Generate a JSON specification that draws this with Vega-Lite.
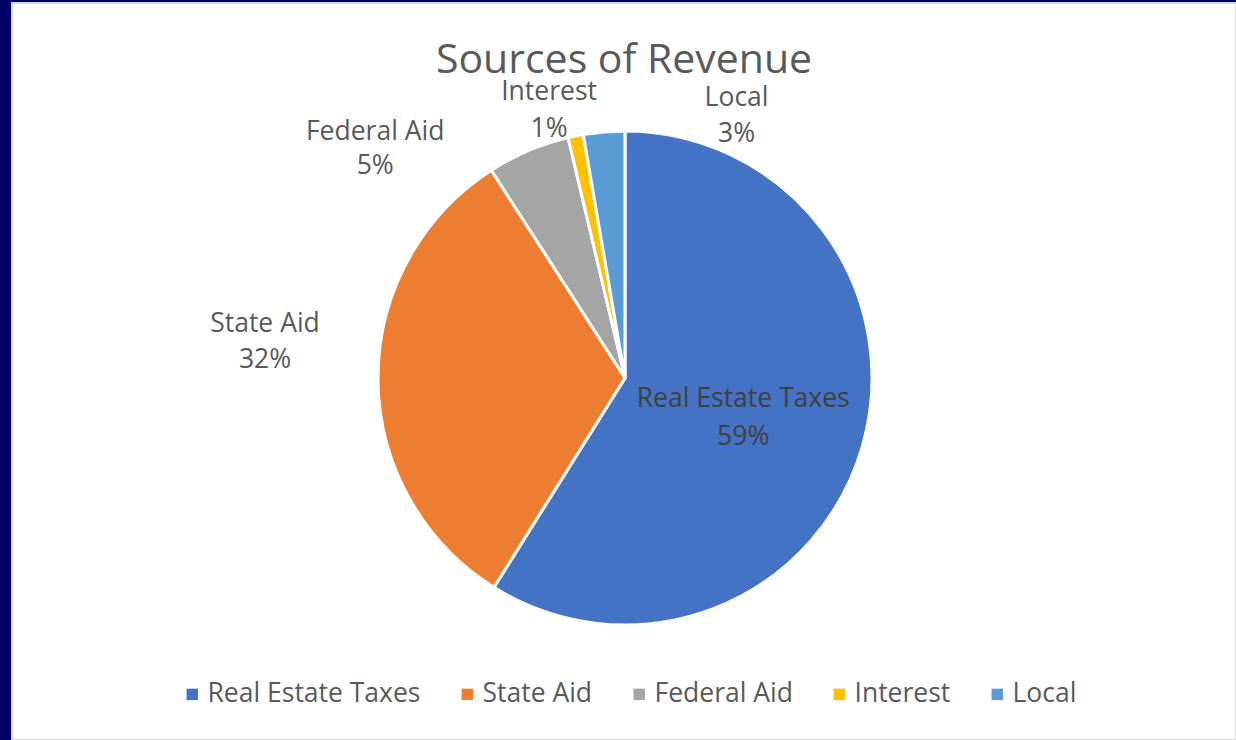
{
  "$schema": "https://vega.github.io/schema/vega-lite/v6.json",
  "autosize": {"type": "none"},
  "width": 1224,
  "height": 737,
  "padding": {"left": 12, "top": 3, "right": 0, "bottom": 0},
  "background": "#000066",
  "view": {"fill": "white", "stroke": "#d9d9d9", "strokeWidth": 2},
  "config": {"font": "Open Sans"},
  "title": {
    "text": "Sources of Revenue",
    "fontSize": 41,
    "fontWeight": "normal",
    "color": "#595959",
    "anchor": "middle",
    "baseline": "alphabetic",
    "offset": -111,
    "font": "Open Sans"
  },
  "data": {
    "values": [
      {"cat": "Real Estate Taxes", "value": 58.9, "label": "Real Estate Taxes\n59%", "rank": 1},
      {"cat": "State Aid", "value": 32.0, "label": "State Aid\n32%", "rank": 2},
      {"cat": "Federal Aid", "value": 5.4, "label": "Federal Aid\n5%", "rank": 3},
      {"cat": "Interest", "value": 1.0, "label": "Interest\n1%", "rank": 4},
      {"cat": "Local", "value": 2.7, "label": "Local\n3%", "rank": 5}
    ]
  },
  "encoding": {
    "theta": {"field": "value", "type": "quantitative", "stack": true},
    "order": {"field": "rank", "type": "quantitative"}
  },
  "layer": [
    {
      "mark": {"type": "arc", "outerRadius": 247, "stroke": "white", "strokeWidth": 3, "xOffset": 1, "yOffset": 6.5},
      "encoding": {
        "color": {
          "field": "cat",
          "type": "nominal",
          "scale": {
            "domain": ["Real Estate Taxes", "State Aid", "Federal Aid", "Interest", "Local"],
            "range": ["#4472C4", "#ED7D31", "#A5A5A5", "#FFC000", "#5B9BD5"]
          },
          "legend": {
            "title": null,
            "orient": "none",
            "direction": "horizontal",
            "legendX": 167,
            "legendY": 678,
            "symbolType": "square",
            "symbolSize": 130,
            "symbolStrokeWidth": 0,
            "labelFontSize": 26.5,
            "labelColor": "#595959",
            "labelFont": "Open Sans",
            "labelOffset": 2,
            "labelLimit": 400,
            "columnPadding": 33
          }
        }
      }
    },
    {
      "mark": {"type": "text", "radius": 123, "dy": -13, "fontSize": 26.5, "color": "#404040", "lineBreak": "\n", "lineHeight": 38, "baseline": "middle", "align": "center", "xOffset": 1, "yOffset": 6.5},
      "encoding": {
        "detail": {"field": "cat", "type": "nominal"},
        "text": {"condition": {"test": "datum.cat === 'Real Estate Taxes'", "field": "label"}, "value": ""}
      }
    },
    {
      "mark": {"type": "text", "radius": 250, "dx": -110, "dy": -56, "fontSize": 26.5, "color": "#595959", "lineBreak": "\n", "lineHeight": 36, "baseline": "middle", "align": "center", "xOffset": 1, "yOffset": 6.5},
      "encoding": {
        "detail": {"field": "cat", "type": "nominal"},
        "text": {"condition": {"test": "datum.cat === 'State Aid'", "field": "label"}, "value": ""}
      }
    },
    {
      "mark": {"type": "text", "radius": 250, "dx": -152, "dy": -16, "fontSize": 26.5, "color": "#595959", "lineBreak": "\n", "lineHeight": 34, "baseline": "middle", "align": "center", "xOffset": 1, "yOffset": 6.5},
      "encoding": {
        "detail": {"field": "cat", "type": "nominal"},
        "text": {"condition": {"test": "datum.cat === 'Federal Aid'", "field": "label"}, "value": ""}
      }
    },
    {
      "mark": {"type": "text", "radius": 275, "dx": -21, "dy": -17, "fontSize": 26.5, "color": "#595959", "lineBreak": "\n", "lineHeight": 37, "baseline": "middle", "align": "center", "xOffset": 1, "yOffset": 6.5},
      "encoding": {
        "detail": {"field": "cat", "type": "nominal"},
        "text": {"condition": {"test": "datum.cat === 'Interest'", "field": "label"}, "value": ""}
      }
    },
    {
      "mark": {"type": "text", "radius": 265, "dx": 134, "dy": -16, "fontSize": 26.5, "color": "#595959", "lineBreak": "\n", "lineHeight": 36, "baseline": "middle", "align": "center", "xOffset": 1, "yOffset": 6.5},
      "encoding": {
        "detail": {"field": "cat", "type": "nominal"},
        "text": {"condition": {"test": "datum.cat === 'Local'", "field": "label"}, "value": ""}
      }
    }
  ]
}
